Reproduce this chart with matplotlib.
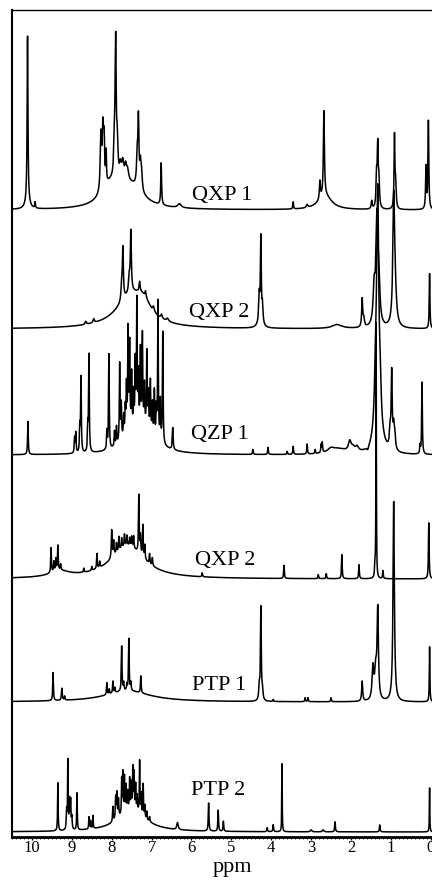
import numpy as np
import matplotlib
matplotlib.use("Agg")
import matplotlib.pyplot as plt
from matplotlib.ticker import MultipleLocator

# peak tables: (ppm, height, half width)
qxp1_peaks = [
    (10.11, 165, 0.012), (10.11, 8, 0.06), (9.92, 6, 0.01),
    (8.00, 22, 0.30), (7.50, 20, 0.35),
    (8.27, 55, 0.02), (8.22, 58, 0.02), (8.19, 40, 0.015), (8.14, 30, 0.01),
    (7.90, 130, 0.015), (7.93, 35, 0.02), (7.86, 35, 0.02),
    (7.78, 15, 0.03), (7.72, 18, 0.03), (7.65, 15, 0.03), (7.60, 10, 0.03),
    (7.33, 65, 0.015), (7.36, 30, 0.02), (7.28, 25, 0.02), (7.25, 15, 0.02),
    (6.76, 42, 0.012), (6.30, 4, 0.05),
    (3.45, 7, 0.01), (3.10, 3, 0.02),
    (2.65, 14, 0.20), (2.78, 18, 0.015), (2.68, 85, 0.015),
    (1.48, 8, 0.015), (1.33, 60, 0.015), (1.36, 30, 0.015), (1.30, 25, 0.015),
    (0.91, 72, 0.012), (0.88, 25, 0.015),
    (0.06, 88, 0.012), (0.12, 42, 0.012),
]
qxp2_peaks = [
    (7.50, 33, 0.45), (7.20, 12, 0.20),
    (8.45, 4, 0.02), (8.65, 3, 0.02),
    (7.72, 50, 0.015), (7.75, 15, 0.02), (7.52, 60, 0.015), (7.56, 15, 0.02),
    (7.30, 10, 0.015), (7.15, 6, 0.015), (6.95, 5, 0.02), (6.75, 4, 0.02), (6.60, 3, 0.03),
    (4.26, 82, 0.012), (4.30, 25, 0.015), (4.22, 18, 0.015), (4.28, 8, 0.06),
    (2.35, 4, 0.15),
    (1.72, 28, 0.015), (1.68, 8, 0.02),
    (1.35, 105, 0.03), (1.42, 35, 0.03), (1.30, 35, 0.03),
    (0.93, 115, 0.025), (0.90, 35, 0.04),
    (0.03, 55, 0.01),
]
qzp1_peaks = [
    (10.10, 33, 0.01),
    (8.93, 15, 0.01), (8.90, 20, 0.01), (8.80, 25, 0.01), (8.77, 75, 0.01),
    (8.60, 25, 0.01), (8.57, 97, 0.01),
    (8.12, 18, 0.01), (8.07, 95, 0.01),
    (7.20, 25, 0.35), (7.60, 10, 0.20),
    (7.93, 15, 0.01), (7.88, 18, 0.01), (7.80, 78, 0.01), (7.76, 35, 0.01),
    (7.70, 20, 0.01), (7.66, 25, 0.01),
    (7.63, 45, 0.01), (7.59, 100, 0.01), (7.55, 85, 0.01), (7.50, 55, 0.01),
    (7.45, 35, 0.01), (7.41, 65, 0.01), (7.37, 125, 0.01), (7.33, 50, 0.01),
    (7.28, 75, 0.01), (7.23, 90, 0.01), (7.18, 40, 0.01), (7.12, 75, 0.01),
    (7.08, 35, 0.01), (7.03, 50, 0.01), (6.98, 30, 0.01), (6.93, 45, 0.01),
    (6.88, 28, 0.01), (6.84, 138, 0.01), (6.78, 40, 0.01), (6.72, 112, 0.01),
    (6.47, 22, 0.012),
    (4.46, 5, 0.01), (4.08, 7, 0.01), (3.60, 3, 0.01), (3.45, 8, 0.01),
    (3.10, 10, 0.01), (2.90, 4, 0.01), (2.75, 8, 0.01), (2.72, 10, 0.01),
    (2.50, 4, 0.10), (2.30, 5, 0.25), (2.03, 10, 0.04), (1.95, 4, 0.05), (1.85, 5, 0.05),
    (1.58, -4, 0.03),
    (1.33, 225, 0.03), (1.38, 55, 0.04), (1.27, 35, 0.03), (1.30, 18, 0.12),
    (0.98, 75, 0.015), (1.02, 18, 0.02), (0.93, 22, 0.02), (0.90, 12, 0.02),
    (0.22, 72, 0.01), (0.27, 8, 0.01),
]
qxp2b_peaks = [
    (9.30, 6, 0.30), (7.60, 33, 0.50),
    (9.52, 25, 0.01), (9.45, 10, 0.01), (9.40, 12, 0.01), (9.35, 25, 0.01), (9.28, 6, 0.01),
    (8.70, 4, 0.01), (8.50, 4, 0.01), (8.37, 15, 0.01), (8.30, 6, 0.01),
    (8.00, 28, 0.012), (7.95, 15, 0.012), (7.88, 10, 0.01), (7.82, 14, 0.01),
    (7.75, 10, 0.01), (7.68, 12, 0.01), (7.62, 10, 0.01), (7.55, 8, 0.01),
    (7.50, 10, 0.01), (7.45, 12, 0.01),
    (7.32, 58, 0.01), (7.28, 18, 0.01), (7.22, 32, 0.01), (7.17, 14, 0.01),
    (7.05, 10, 0.01), (6.98, 8, 0.01),
    (5.73, 4, 0.01), (3.68, 13, 0.01), (2.82, 4, 0.01), (2.62, 5, 0.01),
    (2.23, 24, 0.01), (1.80, 14, 0.01),
    (1.37, 255, 0.006), (1.40, 12, 0.01), (1.20, 8, 0.01),
    (0.05, 56, 0.01),
]
ptp1_peaks = [
    (7.60, 11, 0.70),
    (9.47, 28, 0.01), (9.25, 12, 0.012), (9.18, 4, 0.01),
    (8.12, 12, 0.01), (8.06, 5, 0.01), (7.97, 12, 0.01), (7.92, 5, 0.01),
    (7.75, 45, 0.01), (7.70, 8, 0.01), (7.62, 6, 0.01), (7.57, 52, 0.01),
    (7.52, 8, 0.01), (7.27, 17, 0.01),
    (4.26, 93, 0.012), (4.30, 14, 0.015), (4.22, 9, 0.015),
    (3.95, 2, 0.01), (3.15, 4, 0.01), (3.08, 4, 0.01), (2.50, 4, 0.01),
    (1.72, 20, 0.015),
    (1.45, 32, 0.025), (1.33, 88, 0.02), (1.38, 28, 0.03),
    (0.93, 200, 0.02),
    (0.03, 55, 0.008),
]
ptp2_peaks = [
    (7.50, 23, 0.40),
    (9.35, 48, 0.008),
    (9.13, 18, 0.01), (9.10, 68, 0.008), (9.06, 28, 0.01), (9.03, 28, 0.01), (9.00, 12, 0.01),
    (8.87, 37, 0.008),
    (8.57, 12, 0.008), (8.53, 8, 0.008), (8.47, 13, 0.008),
    (7.97, 15, 0.01), (7.90, 22, 0.01), (7.87, 25, 0.01), (7.83, 18, 0.01),
    (7.75, 35, 0.008), (7.72, 40, 0.008), (7.68, 35, 0.008), (7.64, 25, 0.008),
    (7.60, 18, 0.008), (7.55, 30, 0.008), (7.51, 25, 0.008), (7.47, 40, 0.008),
    (7.44, 35, 0.008), (7.40, 25, 0.008), (7.36, 15, 0.008), (7.30, 52, 0.008),
    (7.26, 20, 0.008), (7.21, 32, 0.008), (7.17, 12, 0.008), (7.12, 8, 0.008),
    (7.05, 5, 0.01),
    (6.35, 7, 0.02), (5.57, 28, 0.01), (5.33, 21, 0.01), (5.20, 10, 0.01),
    (4.10, 4, 0.01), (3.95, 7, 0.01), (3.73, 68, 0.006),
    (3.00, 2, 0.02), (2.70, 2, 0.02), (2.40, 10, 0.01),
    (1.28, 7, 0.01),
    (0.03, 44, 0.006),
]

spectra = [qxp1_peaks, qxp2_peaks, qzp1_peaks, qxp2b_peaks, ptp1_peaks, ptp2_peaks]
names = ["QXP 1", "QXP 2", "QZP 1", "QXP 2", "PTP 1", "PTP 2"]

# stacking offsets and label spots (ppm, height above the bottom)
offsets = [627, 508, 382, 258, 135, 5]
label_pos = [(5.24, 637), (5.31, 520), (5.29, 398), (5.16, 272), (5.31, 147), (5.33, 42)]


def lorentz_sum(x, peaks):
    y = np.zeros_like(x)
    for p, h, w in peaks:
        y += h / (1 + ((x - p) / w) ** 2)
    return y


ppm = np.linspace(-0.05, 10.5, 40000)

fig = plt.figure(figsize=(4.32, 8.8), dpi=100)
ax = fig.add_axes([12 / 432, 43 / 880, 1 - 12 / 432, 827 / 880])

for peaks, off in zip(spectra, offsets):
    ax.plot(ppm, off + lorentz_sum(ppm, peaks), color="black", lw=1.1)

serif = ["Liberation Serif", "DejaVu Serif"]
for name, (x, y) in zip(names, label_pos):
    ax.text(x, y, name, ha="center", va="baseline", fontsize=16, family=serif)

ax.set_xlim(10.5, -0.03)
ax.set_ylim(0, 827)
ax.set_yticks([])
ax.xaxis.set_major_locator(MultipleLocator(1))
ax.xaxis.set_minor_locator(MultipleLocator(0.1))
ax.tick_params(axis="x", which="major", direction="out", length=2.5, width=1, pad=0, labelsize=12)
ax.tick_params(axis="x", which="minor", direction="out", length=1.5, width=0.6)
for lab in ax.get_xticklabels():
    lab.set_family(serif)

ax.spines["right"].set_visible(False)
ax.spines["left"].set_linewidth(1.5)
ax.spines["top"].set_linewidth(1.0)
ax.spines["bottom"].set_linewidth(2.0)

ax.set_xlabel("ppm", fontsize=16, family=serif)
ax.xaxis.label.set_va("baseline")
ax.xaxis.set_label_coords(0.526, -0.0425)

fig.savefig("out.png", dpi=100)
